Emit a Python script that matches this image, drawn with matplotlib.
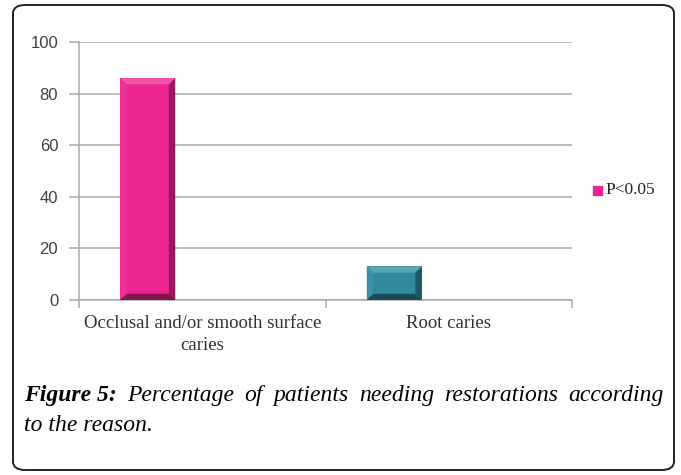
import matplotlib
matplotlib.use("Agg")
import matplotlib.pyplot as plt
from matplotlib.patches import FancyBboxPatch, Polygon, Rectangle
import numpy as np

# data
categories = ["Occlusal and/or smooth surface\ncaries", "Root caries"]
values = [86, 13]
bar_colors = ["#EC2590", "#2E8A9C"]
yticks = [0, 20, 40, 60, 80, 100]
legend_label = "P<0.05"
caption_bold = "Figure 5:"
caption_rest = "Percentage of patients needing restorations according"
caption_line2 = "to the reason."

plt.rcParams['font.family'] = ['Liberation Serif', 'DejaVu Serif']

fig = plt.figure(figsize=(6.81, 4.75), dpi=100)
ax = fig.add_axes([79/681, 1 - 300/475, (572-79)/681, (300-42)/475])

x = np.arange(len(categories))
width = 0.223
pos = x - 0.221
bars = ax.bar(pos, values, width=width, color=bar_colors, zorder=3)

# fake bevel on each bar
def shade(c, f):
    c = np.array(matplotlib.colors.to_rgb(c))
    if f > 0:
        return tuple(c + (1 - c) * f)
    return tuple(c * (1 + f))

bx, by = 0.026, 2.4
for b, col in zip(bars, bar_colors):
    x0, w, h = b.get_x(), b.get_width(), b.get_height()
    x1 = x0 + w
    ix0, ix1, iy0, iy1 = x0 + bx, x1 - bx, by, h - by
    ax.add_patch(Polygon([(x0, h), (x1, h), (ix1, iy1), (ix0, iy1)], color=shade(col, 0.22), zorder=4, lw=0))
    ax.add_patch(Polygon([(x0, 0), (x0, h), (ix0, iy1), (ix0, iy0)], color=shade(col, 0.06), zorder=4, lw=0))
    ax.add_patch(Polygon([(x1, 0), (x1, h), (ix1, iy1), (ix1, iy0)], color=shade(col, -0.35), zorder=4, lw=0))
    ax.add_patch(Polygon([(x0, 0), (x1, 0), (ix1, iy0), (ix0, iy0)], color=shade(col, -0.45), zorder=4, lw=0))

ax.set_xlim(-0.5, len(categories) - 0.5)
ax.set_ylim(0, 100)
ax.set_yticks(yticks)
ax.set_yticklabels([str(v) for v in yticks], fontsize=12, color="#404040", family='Liberation Sans')
ax.yaxis.grid(True, color="#A8A8A8", lw=1.1, zorder=0)
ax.set_axisbelow(True)

# category labels centred, boundary ticks
ax.set_xticks(x)
ax.set_xticklabels(categories, fontsize=13.5, color="#303030", linespacing=1.35)
ax.tick_params(axis='x', length=0, pad=11)
ax.set_xticks(np.arange(-0.5, len(categories)), minor=True)
ax.tick_params(axis='x', which='minor', length=6, color="#A8A8A8", width=1.1)
ax.tick_params(axis='y', length=7, color="#A8A8A8", width=1.1, pad=8)

for s in ['top', 'right']:
    ax.spines[s].set_visible(False)
for s in ['left', 'bottom']:
    ax.spines[s].set_color("#A8A8A8")
    ax.spines[s].set_linewidth(1.1)

# legend
fig.patches.append(Rectangle((593/681, 1 - 195/475), 9/681, 9/475, transform=fig.transFigure,
                             color=bar_colors[0], figure=fig))
fig.text(605/681, 1 - 190.5/475, legend_label, fontsize=12.5, va='center', ha='left', color="#222222")

# outer rounded frame
fig.patches.append(FancyBboxPatch((13/681, 5/475), 661/681, 465/475,
                                  boxstyle="round,pad=0,rounding_size=0.018",
                                  transform=fig.transFigure, fill=False, ec="#222222", lw=1.4, figure=fig))

# caption: first line justified word by word
fs = 17
left, right = 24/681, 664/681
y1 = 1 - 401/475
words = [(caption_bold, 'bold')] + [(w, 'normal') for w in caption_rest.split()]
texts = [fig.text(left, y1, w, fontsize=fs, style='italic', weight=wt, va='baseline', ha='left')
         for w, wt in words]
fig.canvas.draw()
r = fig.canvas.get_renderer()
widths = [t.get_window_extent(r).width / fig.bbox.width for t in texts]
gap = (right - left - sum(widths)) / (len(texts) - 1)
xpos = left
for t, w in zip(texts, widths):
    t.set_x(xpos)
    xpos += w + gap
fig.text(left, 1 - 431/475, caption_line2, fontsize=fs, style='italic', va='baseline', ha='left')

fig.savefig("out.png", dpi=100)
